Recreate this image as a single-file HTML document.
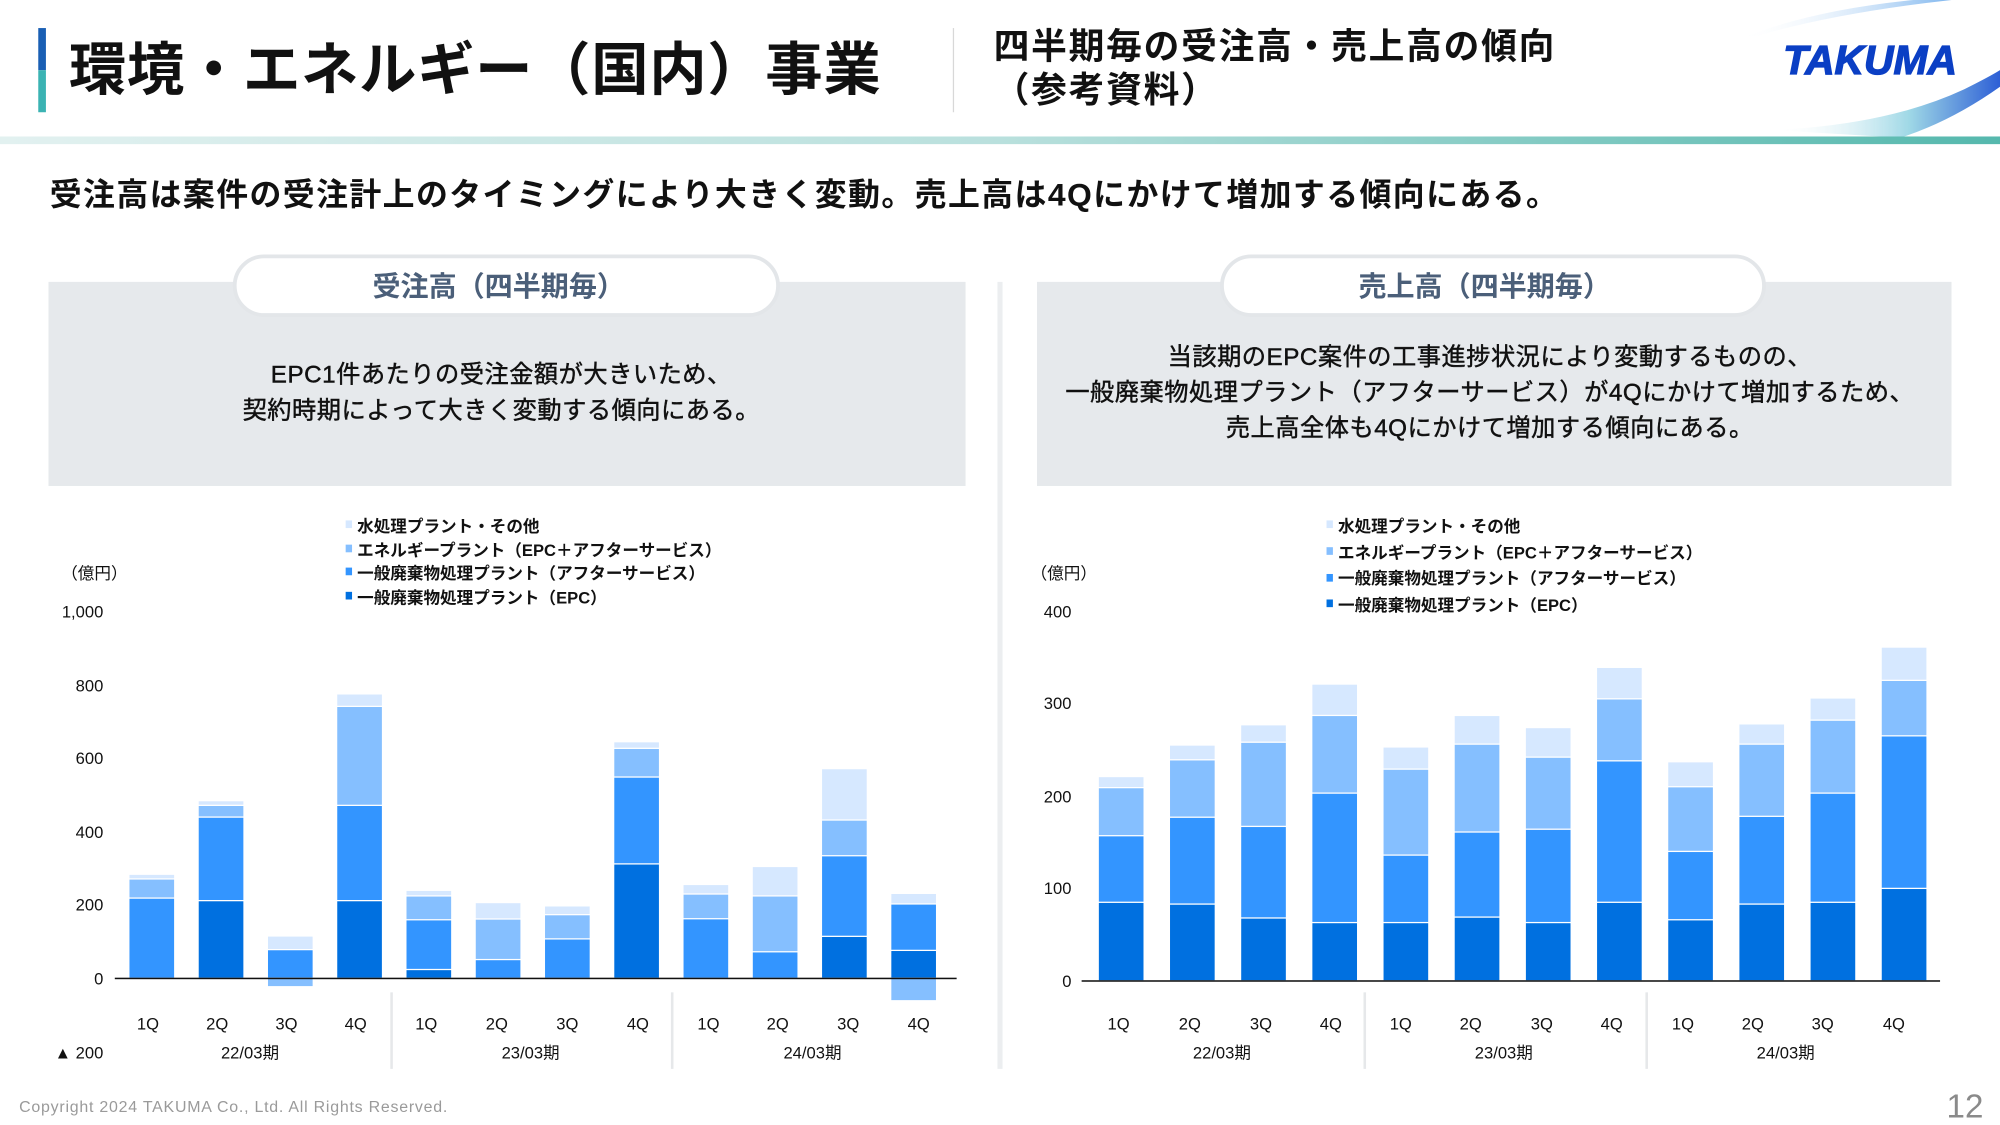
<!DOCTYPE html>
<html><head><meta charset="utf-8">
<style>
html,body{margin:0;padding:0;background:#fff;}
body{width:2000px;height:1125px;overflow:hidden;position:relative;}
#s{position:absolute;left:0;top:0;width:1568px;height:882px;transform:scale(1.27551);transform-origin:0 0;font-family:"Liberation Sans","Noto Sans CJK JP",sans-serif;}
.a{position:absolute;white-space:nowrap;}
</style></head><body><div id="s">
<svg width="1568" height="882" style="position:absolute;left:0;top:0">
<defs>
<linearGradient id="ln" x1="0" x2="1"><stop offset="0" stop-color="#e2f1f0"/><stop offset="0.5" stop-color="#b9e0dd"/><stop offset="1" stop-color="#55b8ad"/></linearGradient>
<linearGradient id="sw" x1="0" x2="1"><stop offset="0" stop-color="#ffffff" stop-opacity="0"/><stop offset="1" stop-color="#7fb6ee"/></linearGradient>
<linearGradient id="sw2" x1="0" x2="1"><stop offset="0" stop-color="#ffffff" stop-opacity="0"/><stop offset="0.6" stop-color="#9fd8e6"/><stop offset="1" stop-color="#2d5fd6"/></linearGradient>
</defs>
<rect x="30" y="22" width="6" height="33" fill="#1a5fb4"/>
<rect x="30" y="55" width="6" height="33" fill="#3bb3b3"/>
<rect x="747" y="22" width="1" height="66" fill="#d8d8d8"/>
<path d="M1365 30 Q1420 8 1500 0 L1530 0 Q1440 10 1378 28 Z" fill="url(#sw)"/>
<path d="M1390 102 Q1480 98 1540 70 Q1560 60 1568 55 L1568 68 Q1530 95 1490 108 Z" fill="url(#sw2)"/>
<rect x="0" y="107" width="1568" height="6" fill="url(#ln)"/>
<rect x="38" y="221" width="719" height="160" fill="#e6e9ec"/>
<rect x="813" y="221" width="717" height="160" fill="#e6e9ec"/>
<rect x="184" y="201" width="426" height="46" rx="23" fill="#fff" stroke="#e3e6e9" stroke-width="3"/>
<rect x="958" y="201" width="425" height="46" rx="23" fill="#fff" stroke="#e3e6e9" stroke-width="3"/>
<rect x="782" y="221" width="4" height="617" fill="#eceef0"/>
<g font-family="Liberation Sans,Noto Sans CJK JP,sans-serif">
<text x="391" y="232" font-size="22" font-weight="bold" fill="#4b5f79" text-anchor="middle">受注高（四半期毎）</text>
<text x="1164" y="232" font-size="22" font-weight="bold" fill="#4b5f79" text-anchor="middle">売上高（四半期毎）</text>
<g font-size="19" fill="#111" stroke="#111" stroke-width="0.35" text-anchor="middle" letter-spacing="0.4">
<text x="393" y="300">EPC1件あたりの受注金額が大きいため、</text>
<text x="393" y="328">契約時期によって大きく変動する傾向にある。</text>
<text x="1168" y="286">当該期のEPC案件の工事進捗状況により変動するものの、</text>
<text x="1168" y="314">一般廃棄物処理プラント（アフターサービス）が4Qにかけて増加するため、</text>
<text x="1168" y="342">売上高全体も4Qにかけて増加する傾向にある。</text>
</g>
<g font-size="13" fill="#111">
<text x="48" y="454">（億円）</text>
<g text-anchor="end"><text x="81" y="484">1,000</text><text x="81" y="542">800</text><text x="81" y="599">600</text><text x="81" y="657">400</text><text x="81" y="714">200</text><text x="81" y="772">0</text><text x="81" y="830">▲ 200</text></g>
<g font-weight="bold" font-size="13">
<rect x="271" y="408" width="5" height="6" fill="#d6e8ff"/><text x="280" y="417">水処理プラント・その他</text>
<rect x="271" y="427" width="5" height="6" fill="#85bfff"/><text x="280" y="436">エネルギープラント（EPC＋アフターサービス）</text>
<rect x="271" y="445" width="5" height="6" fill="#3395ff"/><text x="280" y="454">一般廃棄物処理プラント（アフターサービス）</text>
<rect x="271" y="464" width="5" height="6" fill="#0070e0"/><text x="280" y="473">一般廃棄物処理プラント（EPC）</text>
</g>
<g text-anchor="middle">
<text x="116" y="807">1Q</text><text x="170.3" y="807">2Q</text><text x="224.6" y="807">3Q</text><text x="278.9" y="807">4Q</text><text x="334.2" y="807">1Q</text><text x="389.5" y="807">2Q</text><text x="444.8" y="807">3Q</text><text x="500.1" y="807">4Q</text><text x="555.4" y="807">1Q</text><text x="609.7" y="807">2Q</text><text x="665" y="807">3Q</text><text x="720.3" y="807">4Q</text>
<text x="196" y="830">22/03期</text><text x="416" y="830">23/03期</text><text x="637" y="830">24/03期</text>
</g>
</g>
<rect x="306" y="778" width="2" height="60" fill="#e6e8ea"/><rect x="526" y="778" width="2" height="60" fill="#e6e8ea"/>
<g stroke="#fff" stroke-width="1">
<rect x="101" y="685.4" width="36" height="81.6" fill="#d6e8ff"/><rect x="101" y="689.1" width="36" height="77.9" fill="#85bfff"/><rect x="101" y="704.1" width="36" height="62.9" fill="#3395ff"/>
<rect x="155.3" y="627.7" width="36" height="139.3" fill="#d6e8ff"/><rect x="155.3" y="631.4" width="36" height="135.6" fill="#85bfff"/><rect x="155.3" y="640.6" width="36" height="126.4" fill="#3395ff"/><rect x="155.3" y="706.1" width="36" height="60.9" fill="#0070e0"/>
<rect x="209.6" y="733.8" width="36" height="33.2" fill="#d6e8ff"/><rect x="209.6" y="744.5" width="36" height="22.5" fill="#3395ff"/><rect x="209.6" y="767" width="36" height="6.6" fill="#85bfff"/>
<rect x="263.9" y="544" width="36" height="223" fill="#d6e8ff"/><rect x="263.9" y="553.8" width="36" height="213.2" fill="#85bfff"/><rect x="263.9" y="631.4" width="36" height="135.6" fill="#3395ff"/><rect x="263.9" y="706.1" width="36" height="60.9" fill="#0070e0"/>
<rect x="318.2" y="698" width="36" height="69" fill="#d6e8ff"/><rect x="318.2" y="702.4" width="36" height="64.6" fill="#85bfff"/><rect x="318.2" y="721.1" width="36" height="45.9" fill="#3395ff"/><rect x="318.2" y="760.1" width="36" height="6.9" fill="#0070e0"/>
<rect x="372.5" y="707.6" width="36" height="59.4" fill="#d6e8ff"/><rect x="372.5" y="720.5" width="36" height="46.5" fill="#85bfff"/><rect x="372.5" y="752.3" width="36" height="14.7" fill="#3395ff"/>
<rect x="426.8" y="710.2" width="36" height="56.8" fill="#d6e8ff"/><rect x="426.8" y="717.1" width="36" height="49.9" fill="#85bfff"/><rect x="426.8" y="736.1" width="36" height="30.9" fill="#3395ff"/>
<rect x="481.1" y="581.5" width="36" height="185.5" fill="#d6e8ff"/><rect x="481.1" y="586.7" width="36" height="180.3" fill="#85bfff"/><rect x="481.1" y="609.2" width="36" height="157.8" fill="#3395ff"/><rect x="481.1" y="677.3" width="36" height="89.7" fill="#0070e0"/>
<rect x="535.4" y="693.4" width="36" height="73.6" fill="#d6e8ff"/><rect x="535.4" y="700.9" width="36" height="66.1" fill="#85bfff"/><rect x="535.4" y="720.3" width="36" height="46.7" fill="#3395ff"/>
<rect x="589.7" y="679.3" width="36" height="87.7" fill="#d6e8ff"/><rect x="589.7" y="702.4" width="36" height="64.6" fill="#85bfff"/><rect x="589.7" y="746.2" width="36" height="20.8" fill="#3395ff"/>
<rect x="644" y="602.6" width="36" height="164.4" fill="#d6e8ff"/><rect x="644" y="642.9" width="36" height="124.1" fill="#85bfff"/><rect x="644" y="670.9" width="36" height="96.1" fill="#3395ff"/><rect x="644" y="734.1" width="36" height="32.9" fill="#0070e0"/>
<rect x="698.3" y="700.4" width="36" height="66.6" fill="#d6e8ff"/><rect x="698.3" y="708.7" width="36" height="58.3" fill="#3395ff"/><rect x="698.3" y="745.1" width="36" height="21.9" fill="#0070e0"/><rect x="698.3" y="767" width="36" height="17.6" fill="#85bfff"/>
</g>
<rect x="90" y="766.5" width="660" height="1.2" fill="#111"/>
<g font-size="13" fill="#111">
<text x="808" y="454">（億円）</text>
<g text-anchor="end"><text x="840" y="484">400</text><text x="840" y="556">300</text><text x="840" y="629">200</text><text x="840" y="701">100</text><text x="840" y="774">0</text></g>
<g font-weight="bold" font-size="13">
<rect x="1040" y="408" width="5" height="6" fill="#d6e8ff"/><text x="1049" y="417">水処理プラント・その他</text>
<rect x="1040" y="429" width="5" height="6" fill="#85bfff"/><text x="1049" y="438">エネルギープラント（EPC＋アフターサービス）</text>
<rect x="1040" y="450" width="5" height="6" fill="#3395ff"/><text x="1049" y="458">一般廃棄物処理プラント（アフターサービス）</text>
<rect x="1040" y="470" width="5" height="6" fill="#0070e0"/><text x="1049" y="479">一般廃棄物処理プラント（EPC）</text>
</g>
<g text-anchor="middle">
<text x="877" y="807">1Q</text><text x="932.8" y="807">2Q</text><text x="988.6" y="807">3Q</text><text x="1043.4" y="807">4Q</text><text x="1098.2" y="807">1Q</text><text x="1153" y="807">2Q</text><text x="1208.8" y="807">3Q</text><text x="1263.6" y="807">4Q</text><text x="1319.4" y="807">1Q</text><text x="1374.2" y="807">2Q</text><text x="1429" y="807">3Q</text><text x="1484.8" y="807">4Q</text>
<text x="958" y="830">22/03期</text><text x="1179" y="830">23/03期</text><text x="1400" y="830">24/03期</text>
</g>
</g>
<rect x="1069" y="778" width="2" height="60" fill="#e6e8ea"/><rect x="1290" y="778" width="2" height="60" fill="#e6e8ea"/>
<g stroke="#fff" stroke-width="1">
<rect x="861" y="608.8" width="36" height="160.2" fill="#d6e8ff"/><rect x="861" y="617.5" width="36" height="151.5" fill="#85bfff"/><rect x="861" y="655.2" width="36" height="113.8" fill="#3395ff"/><rect x="861" y="707.4" width="36" height="61.6" fill="#0070e0"/>
<rect x="916.8" y="584.1" width="36" height="184.9" fill="#d6e8ff"/><rect x="916.8" y="595.7" width="36" height="173.3" fill="#85bfff"/><rect x="916.8" y="640.7" width="36" height="128.3" fill="#3395ff"/><rect x="916.8" y="708.8" width="36" height="60.2" fill="#0070e0"/>
<rect x="972.6" y="568.2" width="36" height="200.8" fill="#d6e8ff"/><rect x="972.6" y="581.9" width="36" height="187.1" fill="#85bfff"/><rect x="972.6" y="647.9" width="36" height="121.1" fill="#3395ff"/><rect x="972.6" y="719.7" width="36" height="49.3" fill="#0070e0"/>
<rect x="1028.4" y="536.3" width="36" height="232.7" fill="#d6e8ff"/><rect x="1028.4" y="560.9" width="36" height="208.1" fill="#85bfff"/><rect x="1028.4" y="621.8" width="36" height="147.2" fill="#3395ff"/><rect x="1028.4" y="723.3" width="36" height="45.7" fill="#0070e0"/>
<rect x="1084.2" y="585.6" width="36" height="183.4" fill="#d6e8ff"/><rect x="1084.2" y="603" width="36" height="166" fill="#85bfff"/><rect x="1084.2" y="670.4" width="36" height="98.6" fill="#3395ff"/><rect x="1084.2" y="723.3" width="36" height="45.7" fill="#0070e0"/>
<rect x="1140" y="560.9" width="36" height="208.1" fill="#d6e8ff"/><rect x="1140" y="583.4" width="36" height="185.6" fill="#85bfff"/><rect x="1140" y="652.3" width="36" height="116.7" fill="#3395ff"/><rect x="1140" y="719" width="36" height="50" fill="#0070e0"/>
<rect x="1195.8" y="570.4" width="36" height="198.6" fill="#d6e8ff"/><rect x="1195.8" y="593.6" width="36" height="175.4" fill="#85bfff"/><rect x="1195.8" y="650.1" width="36" height="118.9" fill="#3395ff"/><rect x="1195.8" y="723.3" width="36" height="45.7" fill="#0070e0"/>
<rect x="1251.6" y="523.2" width="36" height="245.8" fill="#d6e8ff"/><rect x="1251.6" y="547.9" width="36" height="221.1" fill="#85bfff"/><rect x="1251.6" y="596.5" width="36" height="172.5" fill="#3395ff"/><rect x="1251.6" y="707.4" width="36" height="61.6" fill="#0070e0"/>
<rect x="1307.4" y="597.2" width="36" height="171.8" fill="#d6e8ff"/><rect x="1307.4" y="616.8" width="36" height="152.2" fill="#85bfff"/><rect x="1307.4" y="667.5" width="36" height="101.5" fill="#3395ff"/><rect x="1307.4" y="721.1" width="36" height="47.9" fill="#0070e0"/>
<rect x="1363.2" y="567.5" width="36" height="201.5" fill="#d6e8ff"/><rect x="1363.2" y="583.4" width="36" height="185.6" fill="#85bfff"/><rect x="1363.2" y="640" width="36" height="129" fill="#3395ff"/><rect x="1363.2" y="708.8" width="36" height="60.2" fill="#0070e0"/>
<rect x="1419" y="547.2" width="36" height="221.8" fill="#d6e8ff"/><rect x="1419" y="564.6" width="36" height="204.4" fill="#85bfff"/><rect x="1419" y="621.8" width="36" height="147.2" fill="#3395ff"/><rect x="1419" y="707.4" width="36" height="61.6" fill="#0070e0"/>
<rect x="1474.8" y="507.3" width="36" height="261.7" fill="#d6e8ff"/><rect x="1474.8" y="533.4" width="36" height="235.6" fill="#85bfff"/><rect x="1474.8" y="576.9" width="36" height="192.1" fill="#3395ff"/><rect x="1474.8" y="696.5" width="36" height="72.5" fill="#0070e0"/>
</g>
<rect x="848" y="768.5" width="673" height="1.2" fill="#111"/>
<text x="15" y="872" font-size="12.5" fill="#9a9a9a" letter-spacing="0.6">Copyright  2024 TAKUMA Co., Ltd.  All Rights Reserved.</text>
<text x="1555" y="876" font-size="26" fill="#8a8a8a" text-anchor="end">12</text>
</g>
</svg>
<div class="a" style="left:54px;top:27px;font-size:45px;font-weight:bold;color:#111;line-height:56px;letter-spacing:0.5px;">環境・エネルギー（国内）事業</div>
<div class="a" style="left:779px;top:20px;font-size:28px;font-weight:bold;color:#111;line-height:34px;letter-spacing:1.4px;">四半期毎の受注高・売上高の傾向<br>（参考資料）</div>
<div class="a" style="left:1398px;top:29px;font-size:32px;font-weight:900;font-style:italic;color:#0b3fc4;font-family:'Liberation Sans',sans-serif;-webkit-text-stroke:1px #0b3fc4;">TAKUMA</div>
<div class="a" style="left:39px;top:136px;font-size:25px;font-weight:bold;color:#111;line-height:34px;letter-spacing:1.1px;">受注高は案件の受注計上のタイミングにより大きく変動。売上高は4Qにかけて増加する傾向にある。</div>
</div></body></html>
